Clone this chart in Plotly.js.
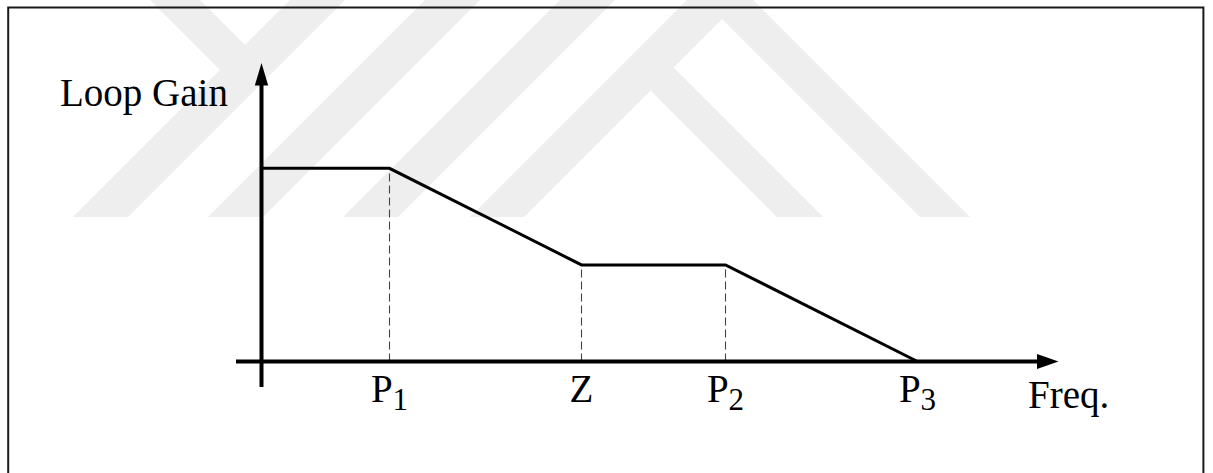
<!DOCTYPE html>
<html>
<head>
<meta charset="utf-8">
<script src="https://cdn.plot.ly/plotly-3.0.1.min.js"></script>
<style>
  html, body { margin: 0; padding: 0; background: #ffffff; }
  #chart { width: 1213px; height: 473px; }
</style>
</head>
<body>
<div id="chart"></div>
<script>
// Break frequencies (arbitrary log-frequency units) and the asymptotic loop gain at each corner
const breakNames = ['P<sub><span style="font-size:31px">1</span></sub>', 'Z',
                    'P<sub><span style="font-size:31px">2</span></sub>',
                    'P<sub><span style="font-size:31px">3</span></sub>'];
const breakFreq = [2, 5, 7.25, 10.25];
const curveFreq = [0, 2, 5, 7.25, 10.25];
const curveGain = [2, 2, 1, 1, 0];
// corners that get a dashed drop line to the frequency axis
const dropFreq = [2, 5, 7.25];
const dropGain = [2, 1, 1];

const W = 1213, H = 473;
// pixel scale of the drawing
const ORIGIN_PX = 261.5, ORIGIN_PY = 361.5;
const PX_PER_X = 64, PX_PER_Y = 96.6;
const px2x = px => (px - ORIGIN_PX) / PX_PER_X;
const py2y = py => (ORIGIN_PY - py) / PX_PER_Y;
const xRange = [px2x(0), px2x(W)];
const yRange = [py2y(H), py2y(0)];

const FONT = 'Liberation Serif, Times New Roman, serif';
const INK = '#000000';
const MARK = '#eeeeee';

const traces = [];
// dashed drop lines from each corner down to the frequency axis
dropFreq.forEach((f, i) => {
  traces.push({
    x: [f, f], y: [0, dropGain[i]], mode: 'lines', hoverinfo: 'skip',
    line: { color: '#444444', width: 1.1, dash: '8px,4px' }
  });
});
// asymptotic loop-gain curve
traces.push({
  x: curveFreq, y: curveGain, mode: 'lines', hoverinfo: 'skip',
  line: { color: INK, width: 3, shape: 'linear' }
});

// background emblem: 45-degree stripes, described in pixel space
function pathPx(pts) {
  return pts.map((p, i) => (i ? 'L' : 'M') + px2x(p[0]).toFixed(4) + ',' + py2y(p[1]).toFixed(4)).join(' ') + ' Z';
}
const BOT = 217, TOP = -12;
function downLeft(a, b) {   // stripe whose bottom spans [a, b]
  return pathPx([[a, BOT], [b, BOT], [b + BOT - TOP, TOP], [a + BOT - TOP, TOP]]);
}
const emblem = [
  downLeft(73, 128),
  downLeft(208, 263),
  downLeft(343, 398),
  downLeft(470, 524),
  // right-leaning outer stripe
  pathPx([[703 + TOP, TOP], [753 + TOP, TOP], [970, BOT], [920, BOT]]),
  // right-leaning inner stripe branching off the fourth stripe
  pathPx([[636, 76], [659, 53], [823, BOT], [777, BOT]]),
  // short stripe forming the upper-left fork
  pathPx([[150 + TOP, TOP], [200 + TOP, TOP], [260, 60], [235, 85]])
];

const shapes = emblem.map(p => ({
  type: 'path', path: p, xref: 'x', yref: 'y', layer: 'below',
  fillcolor: MARK, line: { width: 0 }
}));

// frame
shapes.push({
  type: 'rect', xref: 'paper', yref: 'paper',
  x0: 8.2 / W, x1: 1203.4 / W, y0: -0.1, y1: 1 - 7.4 / H,
  line: { color: '#1a1a1a', width: 2 }, fillcolor: 'rgba(0,0,0,0)'
});
// frequency axis with arrowhead
shapes.push({
  type: 'line', xref: 'x', yref: 'y',
  x0: px2x(236), x1: px2x(1040), y0: 0, y1: 0,
  line: { color: INK, width: 4 }
});
shapes.push({
  type: 'path', xref: 'x', yref: 'y', fillcolor: INK, line: { width: 0 },
  path: pathPx([[1037, ORIGIN_PY - 7.5], [1058.5, ORIGIN_PY], [1037, ORIGIN_PY + 7.5]])
});
// gain axis with arrowhead
shapes.push({
  type: 'line', xref: 'x', yref: 'y',
  x0: 0, x1: 0, y0: py2y(387), y1: py2y(83),
  line: { color: INK, width: 4 }
});
shapes.push({
  type: 'path', xref: 'x', yref: 'y', fillcolor: INK, line: { width: 0 },
  path: pathPx([[ORIGIN_PX - 6.7, 85.5], [ORIGIN_PX, 63], [ORIGIN_PX + 6.7, 85.5]])
});

const layout = {
  width: W, height: H,
  margin: { l: 0, r: 0, t: 0, b: 0, pad: 0 },
  paper_bgcolor: '#ffffff', plot_bgcolor: '#ffffff',
  showlegend: false,
  font: { family: FONT, color: INK },
  xaxis: {
    range: xRange, fixedrange: true,
    anchor: 'free', position: 1 - ORIGIN_PY / H,
    showgrid: false, zeroline: false, showline: false, ticks: '',
    tickmode: 'array', tickvals: breakFreq, ticktext: breakNames,
    tickfont: { family: FONT, size: 39, color: INK }
  },
  yaxis: {
    range: yRange, fixedrange: true,
    showgrid: false, zeroline: false, showline: false,
    showticklabels: false, ticks: ''
  },
  shapes: shapes,
  annotations: [
    {
      text: 'Loop Gain', xref: 'x', yref: 'y', x: px2x(144), y: py2y(93),
      xanchor: 'center', yanchor: 'middle', showarrow: false,
      font: { family: FONT, size: 39, color: INK }
    },
    {
      text: 'Freq.', xref: 'x', yref: 'y', x: px2x(1068.8), y: py2y(394.7),
      xanchor: 'center', yanchor: 'middle', showarrow: false,
      font: { family: FONT, size: 39, color: INK }
    }
  ]
};

Plotly.newPlot('chart', traces, layout, { staticPlot: true, displayModeBar: false });
</script>
</body>
</html>
